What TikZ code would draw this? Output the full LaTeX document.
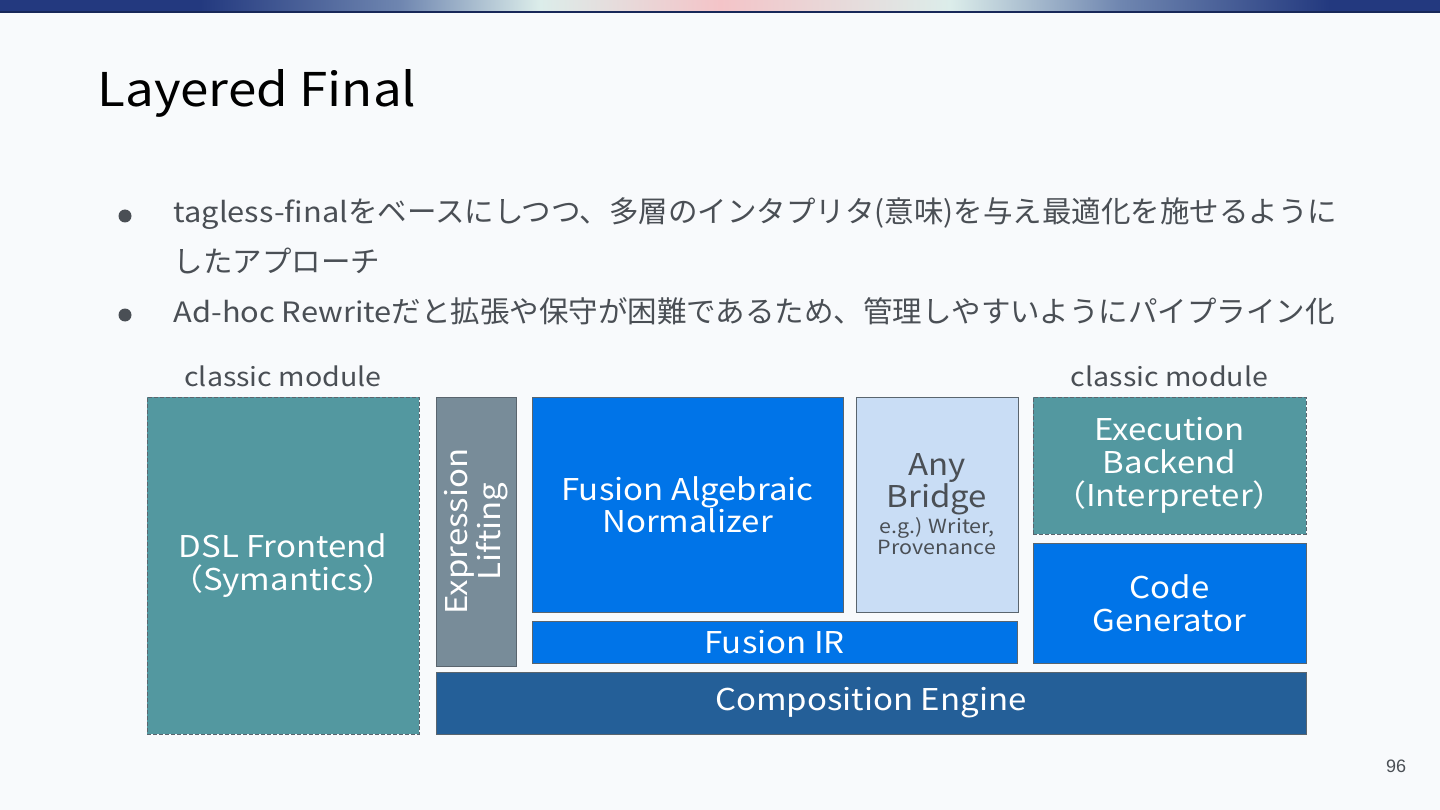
\documentclass[tikz,border=0pt]{standalone}
\usepackage{fontspec}
\setmainfont{Noto Sans CJK JP}
\newfontfamily\boxfont{Noto Sans CJK JP}[FakeStretch=1.1]
\newfontfamily\numfont{Liberation Sans}
\newcommand{\lat}[1]{{\boxfont\fontsize{28}{28}\selectfont #1}}
\definecolor{pagebg}{HTML}{F8FAFC}
\definecolor{barblue}{HTML}{23397F}
\definecolor{barmid}{HTML}{6F86B0}
\definecolor{barcyan}{HTML}{DCEDEA}
\definecolor{barpink}{HTML}{F4C4C8}
\definecolor{inkgray}{HTML}{4A4F55}
\definecolor{tealmod}{HTML}{5398A0}
\definecolor{liftgray}{HTML}{788C99}
\definecolor{fusblue}{HTML}{0074E8}
\definecolor{bridgeblue}{HTML}{C9DDF5}
\definecolor{engblue}{HTML}{245F98}
\definecolor{edgegray}{HTML}{5A656E}

\tikzset{
  blk/.style={draw=edgegray, line width=1pt, inner sep=0pt, align=center,
    text=white, font=\boxfont\fontsize{30}{33}\selectfont},
  classic/.style={blk, fill=tealmod, dashed, dash pattern=on 4pt off 2pt},
  layer/.style={blk, fill=fusblue},
  modlabel/.style={text=inkgray, font=\boxfont\fontsize{26}{28}\selectfont},
  bulletdot/.style={circle, fill=inkgray, minimum size=13pt, inner sep=0pt}
}

\begin{document}
\begin{tikzpicture}[x=1pt,y=-1pt]
\useasboundingbox (0,0) rectangle (1440,810);
\fill[pagebg] (0,0) rectangle (1440,810);

% top band
\fill[barblue] (0,0) rectangle (200,11.5);
\shade[left color=barblue, right color=barmid] (200,0) rectangle (400,11.5);
\shade[left color=barmid, right color=barcyan] (400,0) rectangle (540,11.5);
\shade[left color=barcyan, right color=barpink] (540,0) rectangle (720,11.5);
\shade[left color=barpink, right color=barcyan] (720,0) rectangle (950,11.5);
\shade[left color=barcyan, right color=barmid] (950,0) rectangle (1120,11.5);
\shade[left color=barmid, right color=barblue] (1120,0) rectangle (1330,11.5);
\fill[barblue] (1330,0) rectangle (1440,11.5);
\fill[barblue!70!black] (0,11.5) rectangle (1440,13.5);

% title and bullets
\node[anchor=base west, text=black, font=\boxfont\fontsize{46.5}{46.5}\selectfont] (title) at (94,107) {Layered Final};

\node[bulletdot] (dotA) at (125,216) {};
\node[bulletdot] (dotB) at (125,315) {};
\begin{scope}[every node/.style={anchor=base west, text=inkgray, font=\fontsize{29.5}{29.5}\selectfont}]
  \node (lineA) at (170,223) {\lat{tagless-final}をベースにしつつ、多層のインタプリタ(意味)を与え最適化を施せるように};
  \node (lineB) at (170,273) {したアプローチ};
  \node (lineC) at (170,323) {\lat{Ad-hoc Rewrite}だと拡張や保守が困難であるため、管理しやすいようにパイプライン化};
\end{scope}

% the stack
\node[classic, minimum width=272, minimum height=337] (dsl) at (283,565.5) {DSL Frontend\\（Symantics）};
\node[blk, fill=liftgray, rotate=90, minimum width=269, minimum height=80] (lift) at (476,531.5) {Expression\\Lifting};
\node[layer, minimum width=311, minimum height=215] (norm) at (687.5,504.5) {Fusion Algebraic\\[-1pt]Normalizer};
\node[blk, fill=bridgeblue, text=inkgray, minimum width=162, minimum height=215] (bridge) at (937,504.5)
  {Any\\[-1pt]Bridge\\[-7pt]{\fontsize{19.5}{21}\selectfont e.g.) Writer,}\\[-12pt]{\fontsize{19.5}{21}\selectfont Provenance}};
\node[layer, minimum width=485, minimum height=42] (fir) at (774.5,642) {Fusion IR};
\node[classic, minimum width=273, minimum height=137] (exec) at (1169.5,465.5) {Execution\\Backend\\（Interpreter）};
\node[layer, minimum width=273, minimum height=120] (codegen) at (1169.5,603) {Code\\Generator};
\node[blk, fill=engblue, minimum width=870, minimum height=62] (engine) at (871,703) {Composition Engine};

\node[modlabel] (modL) at (283,376) {classic module};
\node[modlabel] (modR) at (1169.5,376) {classic module};

\node[text=inkgray, font=\numfont\fontsize{18}{18}\selectfont] (pageno) at (1396,766) {96};
\end{tikzpicture}
\end{document}
